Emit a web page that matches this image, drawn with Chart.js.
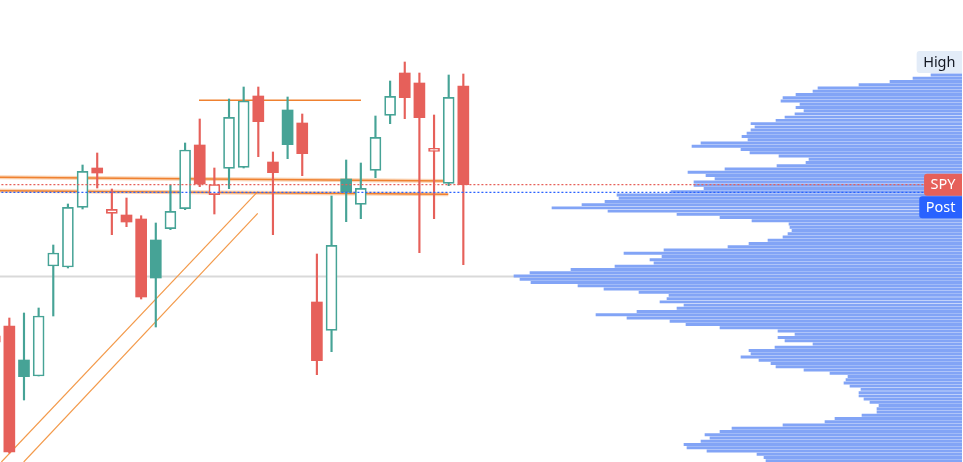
<!DOCTYPE html>
<html><head><meta charset="utf-8">
<script src="https://cdn.jsdelivr.net/npm/chart.js@4.4.1/dist/chart.umd.min.js"></script>
<style>html,body{margin:0;padding:0;background:#fff;overflow:hidden}#wrap{width:963px;height:462px;position:relative}</style>
</head><body><div id="wrap"><canvas id="c" width="963" height="462"></canvas></div>
<script>
// ---- candle data (index 0 is partly off-screen at the left edge) ----
const opens  = [572.6, 573.6, 570.2, 568.6, 579.6, 579.5, 585.47, 589.4, 584.87, 584.7, 584.3, 582.2, 583.33, 585.33, 591.7, 586.73, 589.37, 589.47, 596.6, 590.0, 595.2, 593.9, 576.0, 573.17, 588.3, 585.77, 589.17, 594.67, 598.9, 597.9, 591.07, 587.87, 597.6];
const highs  = [573.2, 574.4, 574.9, 575.4, 581.7, 585.8, 589.7, 590.9, 587.3, 586.4, 584.63, 583.9, 587.7, 591.9, 594.3, 589.4, 596.3, 597.5, 597.5, 591.0, 596.5, 594.8, 580.8, 586.6, 590.2, 589.9, 594.6, 598.1, 600.0, 598.9, 594.7, 598.7, 598.8];
const lows   = [571.7, 560.9, 566.2, 568.6, 574.6, 579.4, 585.3, 587.4, 582.73, 583.53, 576.3, 573.5, 583.23, 585.23, 587.53, 584.8, 587.33, 589.4, 590.53, 582.73, 590.33, 588.63, 568.73, 571.03, 584.03, 584.33, 588.43, 593.83, 594.33, 580.93, 584.33, 587.63, 579.73];
const closes = [572.0, 561.0, 568.53, 574.6, 580.9, 585.47, 589.07, 588.9, 585.27, 584.0, 576.5, 578.4, 585.07, 591.2, 587.8, 587.75, 594.47, 596.1, 594.03, 588.93, 591.73, 590.83, 570.13, 581.67, 586.97, 587.37, 592.47, 596.57, 596.43, 594.43, 591.37, 596.47, 587.73];

// ---- volume profile (rows from top price level downward) ----
const profileTopLevel = 598.7;
const profileRowSize = 0.3241;
const profileVolumes = [31,49,72,103,144,149,166,179,181,162,166,158,167,177,186,211,207,211,215,220,214,261,270,221,212,183,153,156,185,237,274,256,247,268,268,258,291,345,343,357,380,410,354,285,242,210,173,172,170,174,179,194,213,234,298,338,300,312,
308,347,391,432,448,442,431,384,358,323,293,295,302,278,285,325,366,335,292,276,242,184,167,184,177,149,187,213,211,221,203,191,186,158,132,114,116,118,112,101,103,103,98,92,83,85,85,100,127,137,179,230,242,257,252,261,278,275,255,205,198,196];

// ---- price labels ----
const postPrice = 586.97;
const labelHigh = 'High', labelSpy = 'SPY', labelPost = 'Post';

// ---- drawings (bar index, price) ----
const grayLevel = 578.55;
const resistanceLine = [{x: 13.95, y: 596.17}, {x: 25.01, y: 596.17}];
const upperLevelLine = [{x: 0.36, y: 588.47}, {x: 30.97, y: 588.1}];
const lowerLevelLine = [{x: 0.36, y: 587.13}, {x: 30.97, y: 586.77}];
const channelLineA = [{x: 0.457, y: 560.0}, {x: 17.96, y: 587.03}];
const channelLineB = [{x: 1.98, y: 560.0}, {x: 17.96, y: 584.87}];

const RED = '#e6605a', TEAL = '#46a396', ORANGE = '#ef8130', ORANGE_L = '#f39a4b';
const idx = opens.map((_, i) => i);
const cColor = idx.map(i => i === 0 ? RED : (closes[i] >= closes[i-1] ? TEAL : RED));
const hollow = idx.map(i => closes[i] > opens[i]);

const bodies = idx.map(i => ({x: i, y: [opens[i], closes[i]]}));
const wicks = idx.map(i => ({x: i, y: [lows[i], highs[i]]}));
const levels = profileVolumes.map((_, k) => profileTopLevel - k * profileRowSize);
const profile = profileVolumes.map((v, k) => ({x: v, y: levels[k]}));
const lastClose = closes[closes.length - 1];
const maxHigh = Math.max(...highs);

function lineDs(data, color, width, dash) {
  return {type: 'line', data, borderColor: color, borderWidth: width, borderDash: dash || [],
    pointRadius: 0, fill: false, tension: 0, xAxisID: 'x', yAxisID: 'y'};
}
function hLine(price, color, width, dash) {
  return lineDs([{x: -2, y: price}, {x: 70, y: price}], color, width, dash);
}

const labelPlugin = {
  id: 'priceLabels',
  afterDatasetsDraw(chart) {
    const {ctx, chartArea} = chart;
    const y = chart.scales.y;
    const right = chartArea.right;
    const h = 22;
    ctx.save();
    ctx.font = '14.5px "Noto Sans"';
    ctx.textBaseline = 'middle';
    ctx.textAlign = 'right';
    function box(text, top, bg, fg) {
      const w = ctx.measureText(text).width + 13;
      ctx.fillStyle = bg;
      ctx.beginPath();
      ctx.roundRect(right - w, top, w, h, [3, 0, 0, 3]);
      ctx.fill();
      ctx.fillStyle = fg;
      ctx.fillText(text, right - 6.5, top + h / 2 + 0.5);
    }
    box(labelHigh, y.getPixelForValue(maxHigh) - h / 2, '#e3ecf8', '#131722');
    const spyTop = y.getPixelForValue(lastClose) - h / 2;
    box(labelSpy, spyTop, RED, '#ffffff');
    box(labelPost, spyTop + h + 0.5, '#2962ff', '#ffffff');
    ctx.restore();
  }
};

new Chart(document.getElementById('c'), {
  type: 'bar',
  data: {
    datasets: [
      hLine(lastClose, RED, 1.3, [2, 2]),
      hLine(postPrice, '#2962ff', 1.3, [2, 2]),
      {type: 'bar', data: bodies, grouped: false, barThickness: 11,
        backgroundColor: idx.map(i => hollow[i] ? '#ffffff' : cColor[i]),
        borderColor: cColor, borderWidth: idx.map(i => hollow[i] ? 1.7 : 0),
        borderSkipped: false, xAxisID: 'x', yAxisID: 'y'},
      {type: 'bar', data: wicks, grouped: false, barThickness: 1.5,
        backgroundColor: cColor, borderWidth: 0, xAxisID: 'x', yAxisID: 'y'},
      lineDs(resistanceLine, ORANGE, 1.6),
      lineDs(upperLevelLine, ORANGE, 1.4),
      lineDs(upperLevelLine, 'rgba(245,160,90,0.45)', 4),
      lineDs(lowerLevelLine, ORANGE, 1.4),
      lineDs(lowerLevelLine, 'rgba(245,160,90,0.45)', 4),
      lineDs(channelLineA, ORANGE_L, 1.2),
      lineDs(channelLineB, ORANGE_L, 1.2),
      {type: 'bar', indexAxis: 'y', data: profile, grouped: false, barThickness: 2.3,
        backgroundColor: '#82a4f6', borderWidth: 0, xAxisID: 'xp', yAxisID: 'y'},
      hLine(grayLevel, '#d9d9d9', 2.2)
    ]
  },
  options: {
    responsive: false,
    animation: false,
    events: [],
    layout: {padding: {left: 0, top: 0, bottom: 0, right: 1}},
    plugins: {legend: {display: false}, tooltip: {enabled: false}},
    scales: {
      x: {type: 'linear', display: false, min: 0.362, max: 66.05, offset: false, grid: {display: false}},
      xp: {type: 'linear', axis: 'x', display: false, reverse: true, min: 0, max: 962, offset: false, grid: {display: false}},
      y: {type: 'linear', display: false, min: 560, max: 606.2, offset: false, grid: {display: false}}
    }
  },
  plugins: [labelPlugin]
});
</script>
</body></html>
